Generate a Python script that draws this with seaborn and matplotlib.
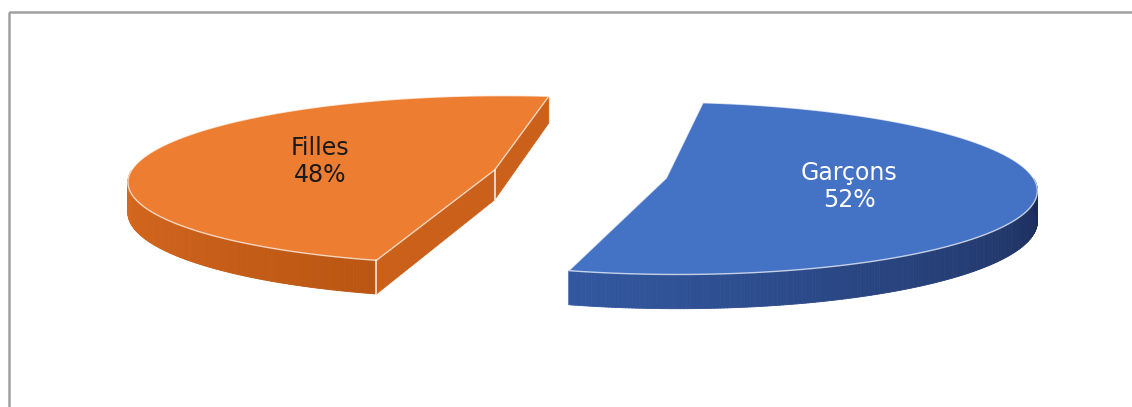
import numpy as np
import matplotlib
matplotlib.use('Agg')
import matplotlib.pyplot as plt
from matplotlib.patches import Polygon, Rectangle
from matplotlib.collections import PolyCollection
import seaborn as sns

# data
categories = ['Garçons', 'Filles']
values = [52, 48]
pct_labels = ['52%', '48%']

# styling
top_colors = ['#4472C4', '#ED7D31']
wall_light = ['#3358A0', '#DB6B21']
wall_dark = ['#1A2A55', '#BA5612']
label_colors = ['white', '#1a1a1a']

# 3d pie geometry in pixel space
CX, CY = 580, 174
RX, RY = 365, 84
DEPTH = 30
PERSP = 0.118
EXPLODE = 0.24
START = 82  # first slice starts here and runs clockwise


def project(X, Y, Z=0.0):
    s = 1.0 / (1.0 + PERSP * Y)
    return CX + RX * X * s, CY - RY * Y * s + DEPTH * Z * s


sns.set_theme(style='white')
plt.rcParams['font.family'] = ['DejaVu Sans']

fig = plt.figure(figsize=(11.32, 4.07), dpi=100)
ax = fig.add_axes([0, 0, 1, 1])
ax.set_xlim(0, 1132)
ax.set_ylim(407, 0)
ax.axis('off')

# chart frame (only top/left visible in the crop)
ax.add_patch(Rectangle((9, 12), 1200, 500, fill=False, edgecolor='#A0A0A0', lw=1.8))

total = float(sum(values))
cum = 0.0
for i, (cat, val) in enumerate(zip(categories, values)):
    a_start = START - cum / total * 360
    a_end = a_start - val / total * 360
    cum += val
    th1, th2 = a_end, a_start  # counter-clockwise order
    mid = np.radians((th1 + th2) / 2)
    ox, oy = EXPLODE * np.cos(mid), EXPLODE * np.sin(mid)

    def pt(theta_deg, r=1.0, z=0.0):
        t = np.radians(theta_deg)
        return project(ox + r * np.cos(t), oy + r * np.sin(t), z)

    # curved outer wall, front half only
    thetas = np.linspace(th1, th2, 400)
    front = np.sin(np.radians(thetas)) < 0
    fr = thetas[front]
    if len(fr) > 1:
        pal = sns.blend_palette([wall_light[i], wall_dark[i]], len(fr) - 1)
        quads = []
        for k in range(len(fr) - 1):
            a, b = fr[k], fr[k + 1]
            quads.append([pt(a), pt(b), pt(b, z=1), pt(a, z=1)])
        ax.add_collection(PolyCollection(quads, facecolors=pal, edgecolors=pal, linewidths=0.6))

    # radial faces (back-face culled)
    c_top = project(ox, oy, 0)
    c_bot = project(ox, oy, 1)
    vis1 = np.sin(np.radians(th1 - 90)) < 0
    vis2 = np.sin(np.radians(th2 + 90)) < 0
    mid_col = sns.blend_palette([wall_light[i], wall_dark[i]], 3)[1]
    for th, vis in ((th1, vis1), (th2, vis2)):
        if vis:
            ax.add_patch(Polygon([c_top, pt(th), pt(th, z=1), c_bot], closed=True,
                                 facecolor=mid_col, edgecolor=mid_col, lw=0.5))
            if len(fr) > 1 and (abs(fr[0] - th) < 1 or abs(fr[-1] - th) < 1):
                p0, p1 = pt(th), pt(th, z=1)
                ax.plot([p0[0], p1[0]], [p0[1], p1[1]], color='white', lw=1.2, alpha=0.85)
    if vis1 and vis2:
        ax.plot([c_top[0], c_bot[0]], [c_top[1], c_bot[1]], color='white', lw=1.2, alpha=0.85)

    # top face
    top = [c_top] + [pt(t) for t in thetas] + [c_top]
    ax.add_patch(Polygon(top, closed=True, facecolor=top_colors[i],
                         edgecolor=(1, 1, 1, 0.7), lw=1.0))

    # label
    lx, ly = project(ox + 0.5 * np.cos(mid), oy + 0.5 * np.sin(mid))
    ax.text(lx, ly, f'{cat}\n{pct_labels[i]}', ha='center', va='center',
            fontsize=17, color=label_colors[i], linespacing=1.15)

fig.savefig('out.png', dpi=100)
